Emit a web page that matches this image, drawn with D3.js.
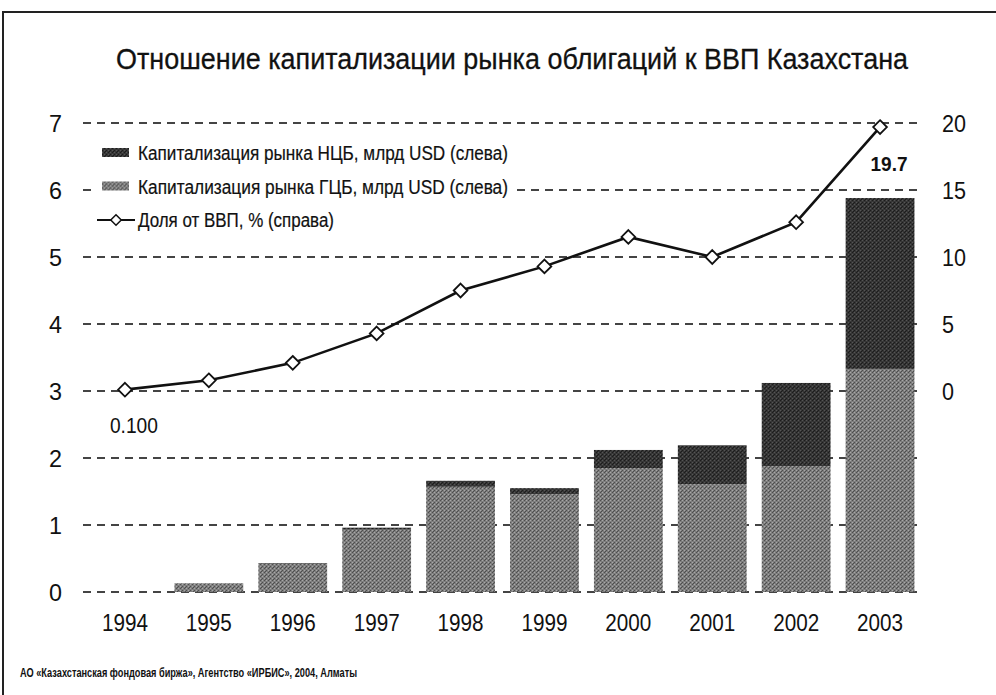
<!DOCTYPE html>
<html>
<head>
<meta charset="utf-8">
<script src="https://cdn.jsdelivr.net/npm/d3@7"></script>
<style>
  body { margin: 0; background: #fff; }
  svg { display: block; font-family: "Liberation Sans", Arial, sans-serif; }
</style>
</head>
<body>
<div id="chart"></div>
<script>
// data
const years = ["1994", "1995", "1996", "1997", "1998", "1999", "2000", "2001", "2002", "2003"];
const gcb = [0, 0.13, 0.42, 0.93, 1.57, 1.46, 1.85, 1.61, 1.88, 3.33];   // ГЦБ, млрд USD
const ncb = [0, 0, 0.01, 0.03, 0.09, 0.09, 0.27, 0.58, 1.24, 2.55];      // НЦБ, млрд USD
const gdpShare = [0.1, 0.8, 2.1, 4.3, 7.5, 9.3, 11.5, 10.0, 12.6, 19.7]; // % ВВП
const leftTicks = [0, 1, 2, 3, 4, 5, 6, 7];
const rightTicks = [0, 5, 10, 15, 20];

const width = 996, height = 695;

const svg = d3.select("#chart").append("svg")
    .attr("width", width)
    .attr("height", height);

// halftone-ish fills like the scan
const defs = svg.append("defs");
function halftone(id, base, dark, light) {
    const p = defs.append("pattern")
        .attr("id", id)
        .attr("width", 4).attr("height", 4)
        .attr("patternUnits", "userSpaceOnUse");
    p.append("rect").attr("width", 4).attr("height", 4).attr("fill", base);
    p.append("rect").attr("x", 0).attr("y", 0).attr("width", 1).attr("height", 1).attr("fill", dark);
    p.append("rect").attr("x", 2).attr("y", 2).attr("width", 1).attr("height", 1).attr("fill", dark);
    p.append("rect").attr("x", 1).attr("y", 3).attr("width", 1).attr("height", 1).attr("fill", dark);
    p.append("rect").attr("x", 2).attr("y", 0).attr("width", 1).attr("height", 1).attr("fill", light);
    p.append("rect").attr("x", 0).attr("y", 2).attr("width", 1).attr("height", 1).attr("fill", light);
}
halftone("gcbFill", "#7e7e7e", "#4e4e4e", "#a8a8a8");
halftone("ncbFill", "#363636", "#1c1c1c", "#555555");

// frame
svg.append("path")
    .attr("d", "M3,697V12H998")
    .attr("fill", "none")
    .attr("stroke", "#222")
    .attr("stroke-width", 2);

const x = d3.scaleBand()
    .domain(years)
    .range([83, 922])
    .paddingInner(0.18)
    .paddingOuter(0.09);

const yL = d3.scaleLinear().domain([0, 7]).range([592, 123]);
const yR = d3.scaleLinear().domain([-15, 20]).range([592, 123]);

// title
svg.append("text")
    .attr("x", 512)
    .attr("y", 69)
    .attr("text-anchor", "middle")
    .attr("font-size", 29)
    .attr("textLength", 792)
    .attr("lengthAdjust", "spacingAndGlyphs")
    .attr("fill", "#111")
    .attr("stroke", "#111")
    .attr("stroke-width", 0.3)
    .text("Отношение капитализации рынка облигаций к ВВП Казахстана");

// dashed grid
svg.append("g")
    .selectAll("line")
    .data(leftTicks)
    .join("line")
    .attr("x1", 83)
    .attr("x2", 922)
    .attr("y1", d => yL(d))
    .attr("y2", d => yL(d))
    .attr("stroke", "#444")
    .attr("stroke-width", 1.8)
    .attr("stroke-dasharray", "8,6");

// stacked bars
const stacked = d3.stack().keys(["gcb", "ncb"])(
    years.map((y, i) => ({ year: y, gcb: gcb[i], ncb: ncb[i] }))
);
const fills = { gcb: "url(#gcbFill)", ncb: "url(#ncbFill)" };

svg.append("g")
    .selectAll("g")
    .data(stacked)
    .join("g")
    .attr("fill", d => fills[d.key])
    .selectAll("rect")
    .data(d => d.filter(s => s[1] - s[0] > 0))
    .join("rect")
    .attr("x", d => x(d.data.year))
    .attr("width", x.bandwidth())
    .attr("y", d => yL(d[1]))
    .attr("height", d => yL(d[0]) - yL(d[1]));

// axes
const axisFont = g => g.call(a => a.select(".domain").remove())
    .selectAll("text")
    .attr("font-size", 24)
    .attr("font-family", "Liberation Sans, Arial, sans-serif")
    .attr("fill", "#111")
    .attr("lengthAdjust", "spacingAndGlyphs");

svg.append("g")
    .attr("transform", "translate(83,0)")
    .call(d3.axisLeft(yL).tickValues(leftTicks).tickSize(0).tickPadding(21).tickFormat(d3.format("d")))
    .call(axisFont)
    .selectAll("text").attr("dy", "0.36em")
    .attr("textLength", 13);

svg.append("g")
    .attr("transform", "translate(922,0)")
    .call(d3.axisRight(yR).tickValues(rightTicks).tickSize(0).tickPadding(20).tickFormat(d3.format("d")))
    .call(axisFont)
    .selectAll("text").attr("dy", "0.36em")
    .attr("textLength", d => String(d).length * 12);

svg.append("g")
    .attr("transform", "translate(0,592)")
    .call(d3.axisBottom(x).tickSize(0).tickPadding(22))
    .call(axisFont)
    .selectAll("text")
    .attr("textLength", 46);

// line on the right axis
const line = d3.line()
    .x((d, i) => x(years[i]) + x.bandwidth() / 2)
    .y(d => yR(d));

svg.append("path")
    .datum(gdpShare)
    .attr("d", line)
    .attr("fill", "none")
    .attr("stroke", "#111")
    .attr("stroke-width", 2.6);

const diamond = d3.symbol().type(d3.symbolDiamond2).size(120);

svg.append("g")
    .selectAll("path")
    .data(gdpShare)
    .join("path")
    .attr("d", diamond)
    .attr("transform", (d, i) => `translate(${x(years[i]) + x.bandwidth() / 2},${yR(d)})`)
    .attr("fill", "#fff")
    .attr("stroke", "#111")
    .attr("stroke-width", 1.8);

// value labels at both ends
svg.append("text")
    .attr("x", x(years[0]) + x.bandwidth() / 2 + 9)
    .attr("y", 433)
    .attr("text-anchor", "middle")
    .attr("font-size", 22)
    .attr("textLength", 48)
    .attr("lengthAdjust", "spacingAndGlyphs")
    .attr("fill", "#111")
    .text(gdpShare[0].toFixed(3));

svg.append("text")
    .attr("x", x(years[9]) + x.bandwidth() / 2 + 9)
    .attr("y", 171)
    .attr("text-anchor", "middle")
    .attr("font-size", 21)
    .attr("font-weight", "bold")
    .attr("textLength", 37)
    .attr("lengthAdjust", "spacingAndGlyphs")
    .attr("fill", "#111")
    .text(gdpShare[9].toFixed(1));

// legend
const legendItems = [
    { label: "Капитализация рынка НЦБ, млрд USD (слева)", type: "bar", fill: "url(#ncbFill)", w: 370 },
    { label: "Капитализация рынка ГЦБ, млрд USD (слева)", type: "bar", fill: "url(#gcbFill)", w: 370 },
    { label: "Доля от ВВП, % (справа)", type: "line", w: 196 }
];

const legend = svg.append("g");
legend.append("rect")
    .attr("x", 94).attr("y", 138)
    .attr("width", 420).attr("height", 100)
    .attr("fill", "#fff");

const li = legend.selectAll("g")
    .data(legendItems)
    .join("g")
    .attr("transform", (d, i) => `translate(0,${160 + i * 33.5})`);

li.filter(d => d.type === "bar")
    .append("rect")
    .attr("x", 102).attr("y", -12)
    .attr("width", 27).attr("height", 9)
    .attr("fill", d => d.fill);

const lineItem = li.filter(d => d.type === "line");
lineItem.append("line")
    .attr("x1", 97).attr("x2", 135)
    .attr("y1", -7).attr("y2", -7)
    .attr("stroke", "#111")
    .attr("stroke-width", 2);
lineItem.append("path")
    .attr("d", d3.symbol().type(d3.symbolDiamond2).size(70))
    .attr("transform", "translate(116,-7)")
    .attr("fill", "#fff")
    .attr("stroke", "#111")
    .attr("stroke-width", 1.5);

li.append("text")
    .attr("x", 138)
    .attr("y", 0)
    .attr("font-size", 20)
    .attr("textLength", d => d.w)
    .attr("lengthAdjust", "spacingAndGlyphs")
    .attr("fill", "#111")
    .attr("stroke", "#111")
    .attr("stroke-width", 0.2)
    .text(d => d.label);

// source
svg.append("text")
    .attr("x", 20)
    .attr("y", 677)
    .attr("font-size", 13)
    .attr("font-weight", "bold")
    .attr("textLength", 337)
    .attr("lengthAdjust", "spacingAndGlyphs")
    .attr("fill", "#111")
    .text("АО «Казахстанская фондовая биржа», Агентство «ИРБИС», 2004, Алматы");
</script>
</body>
</html>
